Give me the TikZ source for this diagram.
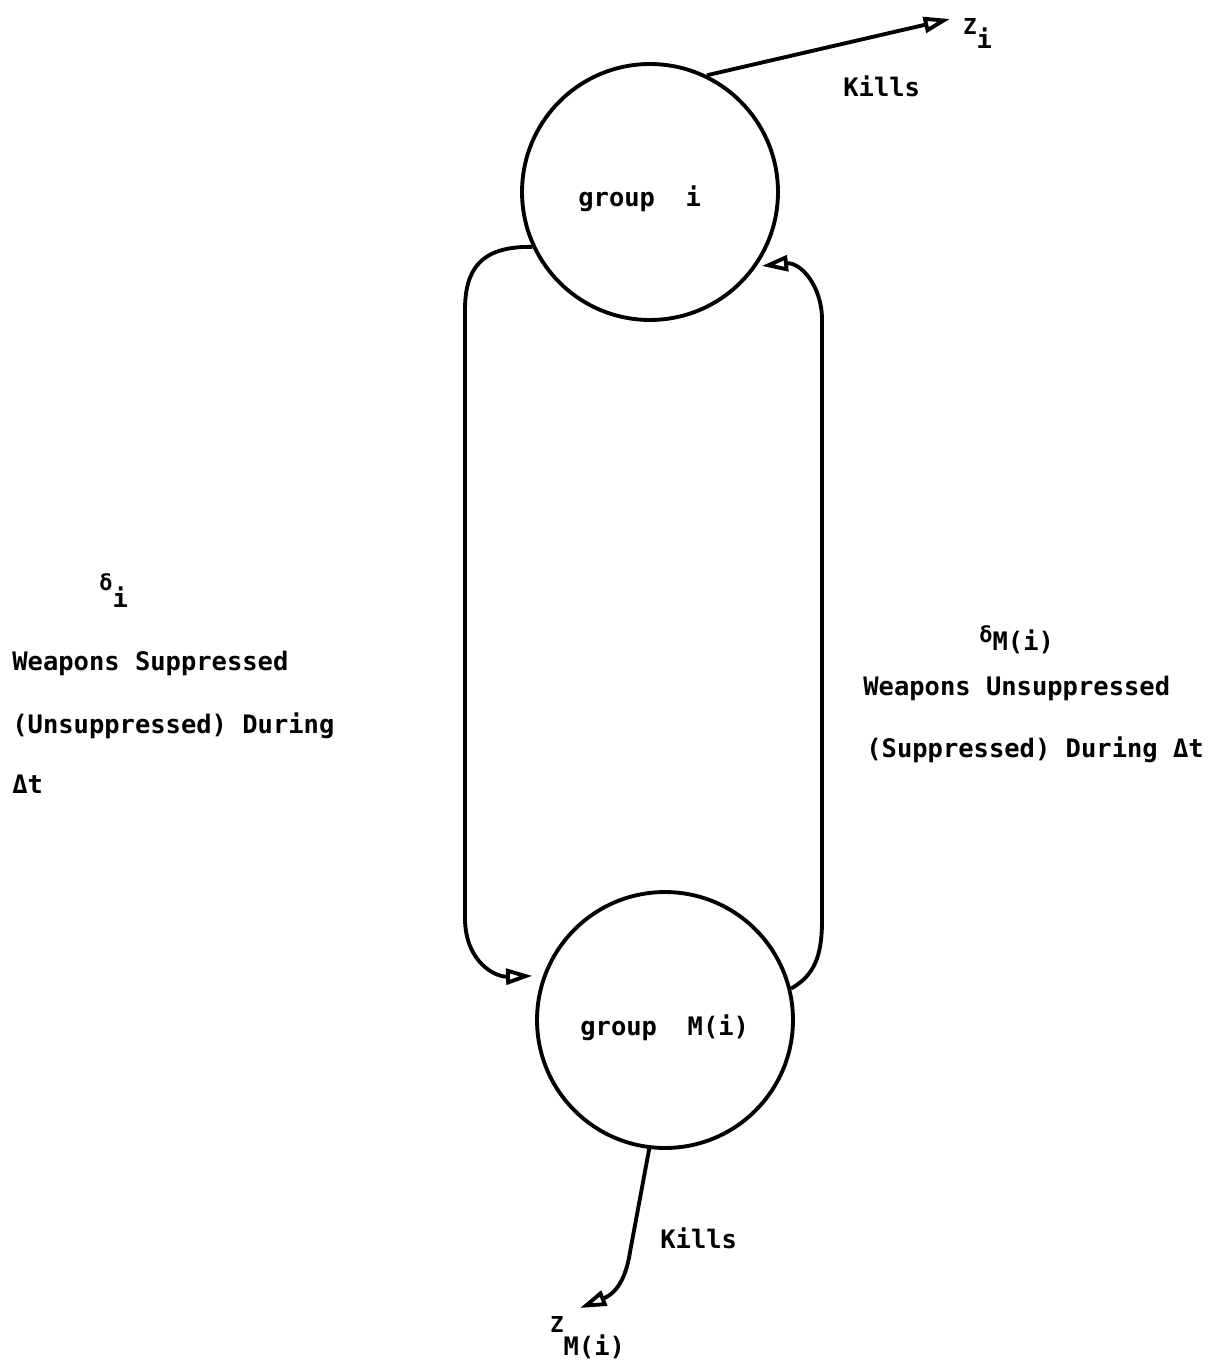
\documentclass[tikz,border=0pt]{standalone}
\usepackage{fontspec}
\newfontfamily\tw{DejaVu Sans Mono Bold}
\usetikzlibrary{arrows.meta}
\begin{document}
\begin{tikzpicture}[x=0.02cm,y=-0.02cm,
  every node/.style={font=\tw\fontsize{14.5}{17}\selectfont, inner sep=0pt},
  grp/.style={circle, draw, line width=2.2pt, minimum size=5.12cm},
  conn/.style={line width=2.2pt, -{Triangle[open,length=15pt,width=9pt,line width=2.2pt]}},
  lbl/.style={anchor=base west},
  sm/.style={font=\tw\fontsize{12.5}{15}\selectfont}]
\useasboundingbox (0,0) rectangle (1215,1361);
% groups
\node[grp] (gi) at (650,192) {};
\node[grp] (gm) at (665,1020) {};
\node[lbl] (gil) at (578,207) {group\ \ i};
\node[lbl] (gml) at (580,1035) {group\ \ M(i)};
% free ends
\coordinate (zitip) at (950,19);
\coordinate (zmtip) at (580,1308);
\coordinate (bk) at (630,1252);
% connectors
\draw[conn] (gi.64) -- (zitip);
\draw[conn, shorten >=6pt] (gi.205) .. controls (480,246) and (465,270) .. (465,310)
  -- (465,920) .. controls (466,962) and (495,977) .. (gm.160);
\draw[conn, shorten >=3pt] (gm.14) .. controls (815,975) and (822,955) .. (822,920)
  -- (822,320) .. controls (822,285) and (800,262) .. (gi.-35);
\draw[conn] (gm.-97) -- (bk) .. controls (625,1285) and (612,1295) .. (zmtip);
% labels
\node[lbl] (k1) at (843,97) {Kills};
\node[lbl] (k2) at (660,1248) {Kills};
\node[lbl] (zi) at (963,35) {{\fontsize{12.5}{15}\selectfont Z}\raisebox{-0.28cm}{i}};
\node[lbl] (zm) at (550,1332) {{\fontsize{12.5}{15}\selectfont Z}\raisebox{-0.46cm}{M(i)}};
\node[lbl] (di) at (99,590) {{\fontsize{12.5}{15}\selectfont δ}\raisebox{-0.34cm}{i}};
\node[lbl] (dm) at (979,642) {{\fontsize{12.5}{15}\selectfont δ}\raisebox{-0.16cm}{M(i)}};
\node[lbl] (l1) at (12,670) {Weapons Suppressed};
\node[lbl] (l2) at (12,733) {(Unsuppressed) During};
\node[lbl] (l3) at (12,793) {Δt};
\node[lbl] (r1) at (863,695) {Weapons Unsuppressed};
\node[lbl] (r2) at (866,757) {(Suppressed) During Δt};
\end{tikzpicture}
\end{document}
